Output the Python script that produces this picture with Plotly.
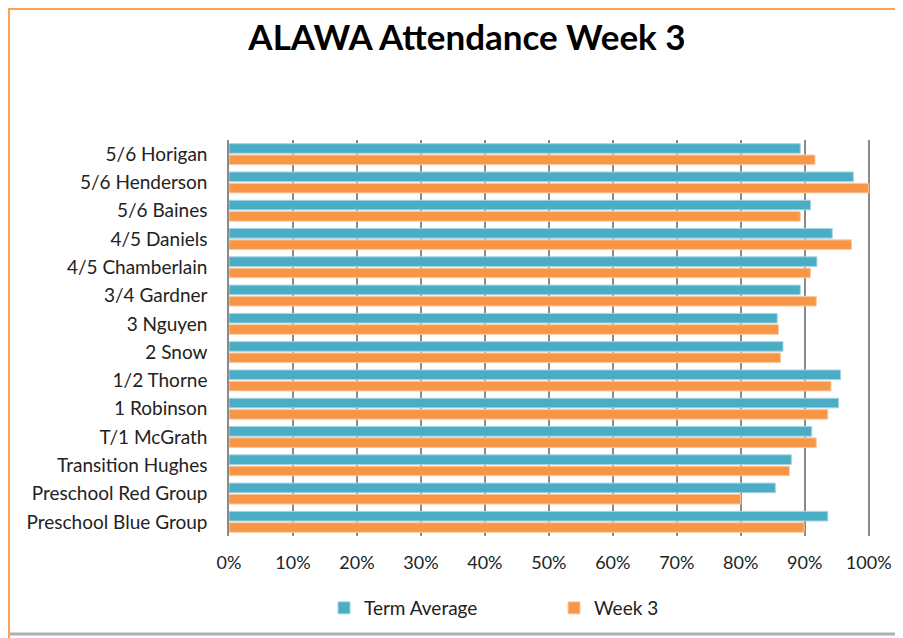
import plotly.graph_objects as go

categories = ["5/6 Horigan", "5/6 Henderson", "5/6 Baines", "4/5 Daniels", "4/5 Chamberlain",
              "3/4 Gardner", "3 Nguyen", "2 Snow", "1/2 Thorne", "1 Robinson", "T/1 McGrath",
              "Transition Hughes", "Preschool Red Group", "Preschool Blue Group"]
term_average = [0.893, 0.976, 0.909, 0.943, 0.919, 0.893, 0.857, 0.866, 0.956, 0.953, 0.911,
                0.879, 0.854, 0.936]
week_3 = [0.916, 1.000, 0.893, 0.973, 0.909, 0.918, 0.859, 0.862, 0.941, 0.936, 0.918,
          0.876, 0.800, 0.899]
x_ticks = [0, 0.1, 0.2, 0.3, 0.4, 0.5, 0.6, 0.7, 0.8, 0.9, 1.0]
x_tick_labels = ["0%", "10%", "20%", "30%", "40%", "50%", "60%", "70%", "80%", "90%", "100%"]

FONT = "Lato, 'Open Sans', sans-serif"
OFF = 8  # page body margin
W, H = 903 - OFF, 638 - OFF
L, R, T, B = 229 - OFF, 870 - OFF, 140 - OFF, 536 - OFF

fig = go.Figure()
fig.add_trace(go.Bar(y=categories, x=term_average, name="Term Average", orientation="h",
                     marker=dict(color="#4BACC6", line=dict(color="#A5D5E2", width=1))))
fig.add_trace(go.Bar(y=categories, x=week_3, name="Week 3", orientation="h",
                     marker=dict(color="#F79646", line=dict(color="#FBCBA3", width=1))))


def px(x):
    return (x - OFF - L) / (R - L)


def py(y):
    return (B - (y - OFF)) / (B - T)


shapes = [
    # orange frame lines
    dict(type="line", xref="paper", yref="paper", x0=px(8), x1=px(903), y0=py(9), y1=py(9),
         line=dict(color="#F7A35C", width=2)),
    dict(type="line", xref="paper", yref="paper", x0=px(9), x1=px(9), y0=py(8), y1=py(638),
         line=dict(color="#F7A35C", width=2)),
    # bottom shadow
    dict(type="line", xref="paper", yref="paper", x0=px(10), x1=px(903), y0=py(634), y1=py(634),
         line=dict(color="#B0B0B0", width=3)),
]

fig.update_layout(
    width=W, height=H,
    margin=dict(l=L, r=W - R, t=T, b=H - B, pad=0),
    paper_bgcolor="white", plot_bgcolor="white",
    barmode="group", bargap=0.2, bargroupgap=0.15,
    title=dict(text="<b>ALAWA Attendance Week 3</b>", x=(467 - OFF) / W, xref="container",
               xanchor="center", y=1 - (38 - OFF) / H, yref="container", yanchor="middle",
               font=dict(family=FONT, size=35, color="#000000")),
    font=dict(family=FONT, size=18, color="#222222"),
    xaxis=dict(range=[0, 1.002], tickvals=x_ticks, ticktext=x_tick_labels, showgrid=True,
               gridcolor="#8A8A8A", gridwidth=1.5, zeroline=False, showline=False,
               ticks="", ticklabelstandoff=14, tickfont=dict(size=18, color="#222222")),
    yaxis=dict(autorange="reversed", showline=True, linecolor="#8A8A8A", linewidth=1.5,
               ticks="", ticklabelstandoff=16, tickfont=dict(size=19, color="#222222"),
               showgrid=False),
    legend=dict(orientation="h", xref="container", x=(324 - OFF) / W, xanchor="left",
                yref="container", y=1 - (608 - OFF) / H, yanchor="middle",
                font=dict(size=19, color="#222222"), itemwidth=30,
                entrywidth=185, entrywidthmode="pixels"),
    shapes=shapes,
    showlegend=True,
)

fig.write_html("out.html")
